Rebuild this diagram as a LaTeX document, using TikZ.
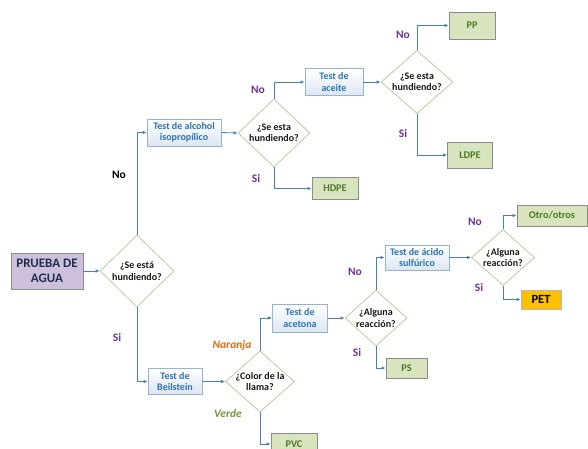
\documentclass[tikz,border=0pt]{standalone}
\usepackage{fontspec}
\setmainfont{Carlito}
\usetikzlibrary{shapes.geometric,arrows.meta}
\definecolor{lineblue}{HTML}{4A7EBB}
\definecolor{bborder}{HTML}{95B3D7}
\definecolor{bfill}{HTML}{DCE6F2}
\definecolor{btext}{HTML}{2E74B5}
\definecolor{dborder}{HTML}{B9CDA0}
\definecolor{gfill}{HTML}{D7E4BD}
\definecolor{gborder}{HTML}{8C8C8C}
\definecolor{gtext}{HTML}{4F7A28}
\definecolor{lpurple}{HTML}{7030A0}
\definecolor{wfill}{HTML}{CCC0DA}
\definecolor{wtext}{HTML}{1F2F4F}
\definecolor{orangeT}{HTML}{E46C0A}
\definecolor{greenT}{HTML}{77933C}
\definecolor{petfill}{HTML}{FFC000}
\tikzset{
  x=1pt, y=-1pt,
  testbox/.style={draw=bborder, line width=0.8pt, top color=white, bottom color=bfill,
    inner sep=0pt, align=center, font=\bfseries\fontsize{10}{11.5}\selectfont, text=btext},
  resbox/.style={draw=gborder, line width=0.8pt, fill=gfill, inner sep=0pt, align=center,
    font=\bfseries\fontsize{10.3}{12}\selectfont, text=gtext},
  dia/.style={diamond, draw=dborder, line width=0.8pt, fill=white, inner sep=0pt, aspect=1},
  diatext/.style={align=center, font=\bfseries\fontsize{10}{11.5}\selectfont, text=black!90},
  conn/.style={draw=lineblue, line width=0.8pt, -{Latex[length=4pt,width=3.5pt]}},
  lab/.style={font=\bfseries\fontsize{11.5}{13}\selectfont, text=lpurple},
}
\begin{document}
\begin{tikzpicture}
\useasboundingbox (0,0) rectangle (588,448);
% start
\node[draw=gborder, line width=0.8pt, fill=wfill, minimum width=72pt, minimum height=36pt, inner sep=0pt,
  align=center, font=\bfseries\fontsize{13}{15}\selectfont, text=wtext] (water) at (47,271) {PRUEBA DE\\AGUA};
% diamonds
\node[dia, minimum width=74pt, minimum height=72pt] (d1) at (137,271) {};
\node[diatext] (t1) at (d1.center) {¿Se está\\hundiendo?};
\node[dia, minimum width=72pt, minimum height=68pt] (d2) at (274,133) {};
\node[diatext] (t2) at (d2.center) {¿Se esta\\hundiendo?};
\node[dia, minimum width=72pt, minimum height=63pt] (d3) at (417,82) {};
\node[diatext] (t3) at (d3.center) {¿Se esta\\hundiendo?};
\node[dia, minimum width=69pt, minimum height=61pt] (d4) at (260,381.5) {};
\node[diatext] (t4) at (d4.center) {¿Color de la\\llama?};
\node[dia, minimum width=62pt, minimum height=56pt] (d6) at (376,318) {};
\node[diatext] (t6) at (d6.center) {¿Alguna\\reacción?};
\node[dia, minimum width=63pt, minimum height=56pt] (d5) at (503,257.5) {};
\node[diatext] (t5) at (d5.center) {¿Alguna\\reacción?};
% test boxes
\node[testbox, minimum width=74pt, minimum height=27pt] (alc) at (184,132.5) {Test de alcohol\\isopropílico};
\node[testbox, minimum width=58pt, minimum height=27pt] (acei) at (334,82) {Test de\\aceite};
\node[testbox, minimum width=54pt, minimum height=26pt] (beil) at (175,381.5) {Test de\\Beilstein};
\node[testbox, minimum width=55pt, minimum height=28pt] (acet) at (300,318) {Test de\\acetona};
\node[testbox, minimum width=64pt, minimum height=25pt] (sulf) at (417,257.5) {Test de ácido\\sulfúrico};
% results
\node[resbox, minimum width=46pt, minimum height=22pt] (hdpe) at (335,188.5) {HDPE};
\node[resbox, minimum width=46pt, minimum height=27pt] (pp) at (472,25.5) {PP};
\node[resbox, minimum width=45pt, minimum height=26pt] (ldpe) at (470,155) {LDPE};
\node[resbox, minimum width=46pt, minimum height=22pt] (pvc) at (294,444) {PVC};
\node[resbox, minimum width=41pt, minimum height=20pt] (ps) at (406.5,368) {PS};
\node[resbox, minimum width=70pt, minimum height=21pt] (otro) at (552,215.5) {Otro/otros};
\node[draw=gborder!60, line width=0.6pt, fill=petfill, minimum width=40pt, minimum height=19pt, inner sep=0pt,
  font=\bfseries\fontsize{12.5}{14}\selectfont, text=black] (pet) at (541,299.5) {PET};
% connectors
\draw[conn] (water.east) -- (d1.west);
\draw[conn] (d1.north) |- (alc.west);
\draw[conn] (alc.east) -- (d2.west);
\draw[conn] (d2.north) |- (acei.west);
\draw[conn] (d2.south) |- (hdpe.west);
\draw[conn] (acei.east) -- (d3.west);
\draw[conn] (d3.north) |- (pp.west);
\draw[conn] (d3.south) |- (ldpe.west);
\draw[conn] (d1.south) |- (beil.west);
\draw[conn] (beil.east) -- (d4.west);
\draw[conn] (d4.north) |- (acet.west);
\draw[conn] (d4.south) |- (pvc.west);
\draw[conn] (acet.east) -- (d6.west);
\draw[conn] (d6.north) |- (sulf.west);
\draw[conn] (d6.south) |- (ps.west);
\draw[conn] (sulf.east) -- (d5.west);
\draw[conn] (d5.north) |- (otro.west);
\draw[conn] (d5.south) |- (pet.west);
% labels
\node[lab, text=black] (l1) at (119,175) {No};
\node[lab] (l2) at (117,337.5) {Si};
\node[lab] (l3) at (258,90) {No};
\node[lab] (l4) at (256,178) {Si};
\node[lab] (l5) at (403,35) {No};
\node[lab] (l6) at (403,133) {Si};
\node[lab, text=orangeT, font=\bfseries\itshape\fontsize{11.5}{13}\selectfont] (l7) at (232,345) {Naranja};
\node[lab, text=greenT, font=\bfseries\itshape\fontsize{11.5}{13}\selectfont] (l8) at (228,413) {Verde};
\node[lab] (l9) at (355,272) {No};
\node[lab] (l10) at (357,352) {Si};
\node[lab] (l11) at (475,222) {No};
\node[lab] (l12) at (479,287) {Si};
\end{tikzpicture}
\end{document}
